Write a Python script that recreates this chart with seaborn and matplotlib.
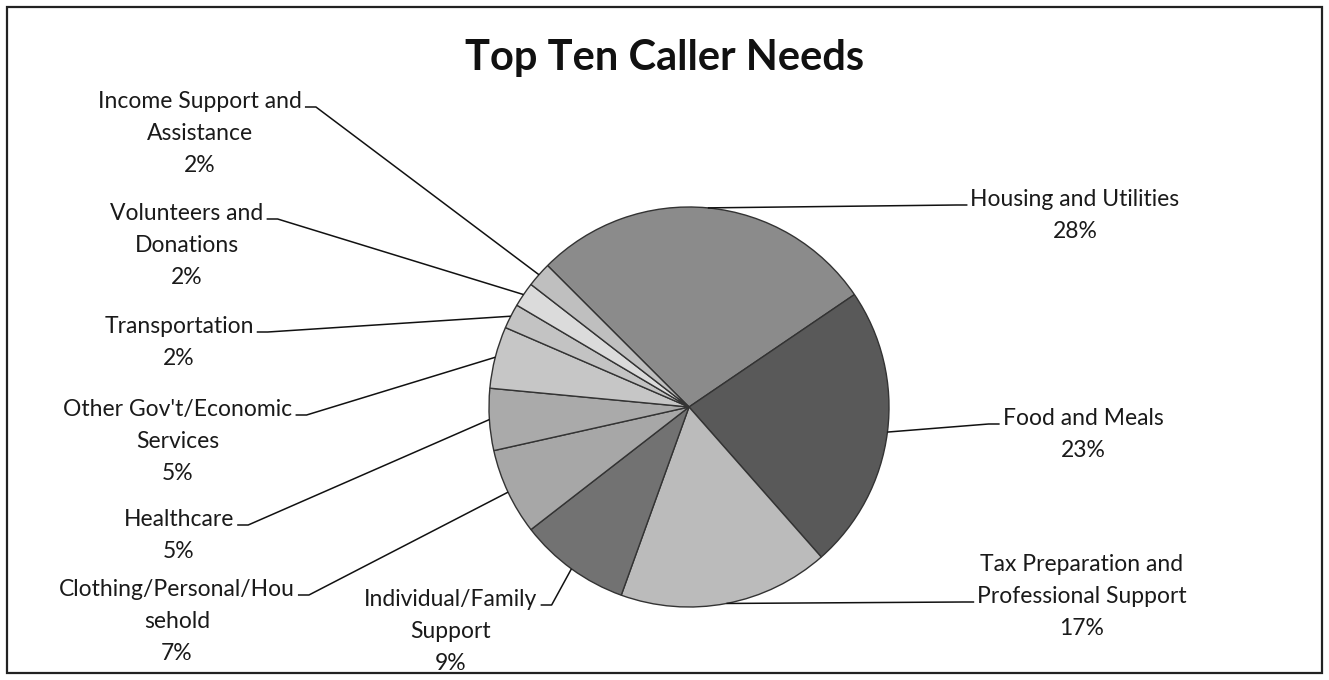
import matplotlib
matplotlib.use("Agg")
import matplotlib.pyplot as plt
from matplotlib.patches import Rectangle
import numpy as np
import seaborn as sns

# Share of calls by need category (percent), clockwise from the top-left
categories = [
    "Housing and Utilities",
    "Food and Meals",
    "Tax Preparation and\nProfessional Support",
    "Individual/Family\nSupport",
    "Clothing/Personal/Hou\nsehold",
    "Healthcare",
    "Other Gov't/Economic\nServices",
    "Transportation",
    "Volunteers and\nDonations",
    "Income Support and\nAssistance",
]
shares = [28, 23, 17, 9, 7, 5, 5, 2, 2, 2]

slice_colors = ["#8b8b8b", "#595959", "#bbbbbb", "#727272", "#a7a7a7",
                "#aaaaaa", "#c6c6c6", "#c3c3c3", "#dbdbdb", "#bfbfbf"]

# label layout: centre x, first-line centre y, side of the pie, line the leader attaches to
label_layout = [
    (1075, 198, "right", 0),
    (1083, 417, "right", 0),
    (1082, 563, "right", 1),
    (451, 598, "left", 0),
    (177, 588, "left", 0),
    (179, 518, "left", 0),
    (178, 408, "left", 0),
    (179, 325, "left", 0),
    (187, 212, "left", 0),
    (200, 100, "left", 0),
]

W, H = 1329, 680
sns.set_theme(style="white")
plt.rcParams["font.family"] = ["Lato", "DejaVu Sans"]

fig = plt.figure(figsize=(W / 100, H / 100), dpi=100)
ax = fig.add_axes([0, 0, 1, 1])

CX, CY, R = 689, 407, 200
wedges, _ = ax.pie(
    shares,
    colors=slice_colors,
    startangle=-135,
    counterclock=True,
    radius=R,
    center=(CX, CY),
    wedgeprops=dict(edgecolor="#333333", linewidth=1.0),
)
ax.set_xlim(0, W)
ax.set_ylim(H, 0)
ax.set_aspect("auto")
ax.axis("off")

ax.add_patch(Rectangle((7, 7), W - 14, H - 14, fill=False, lw=1.6,
                       ec="#222222", zorder=5))

ax.text(665, 70, "Top Ten Caller Needs", ha="center", va="baseline",
        fontsize=30, fontweight="bold", color="#111111")

LS = 32
FS = 16.5
text_objs = []
for cat, val, (cx, y0, side, k) in zip(categories, shares, label_layout):
    lines = cat.split("\n") + [f"{val}%"]
    objs = []
    for i, ln in enumerate(lines):
        t = ax.text(cx, y0 + i * LS + 8, ln, ha="center", va="baseline",
                    fontsize=FS, color="#1a1a1a")
        objs.append(t)
    text_objs.append(objs)

fig.canvas.draw()
renderer = fig.canvas.get_renderer()
inv = ax.transData.inverted()

for w, objs, (cx, y0, side, k) in zip(wedges, text_objs, label_layout):
    mid = np.deg2rad((w.theta1 + w.theta2) / 2)
    px = CX + R * np.cos(mid)
    py = CY + R * np.sin(mid)
    bb = objs[k].get_window_extent(renderer)
    (x0, _), (x1, _) = inv.transform([[bb.x0, bb.y0], [bb.x1, bb.y1]])
    ty = y0 + k * LS + 7
    if side == "left":
        xs = [x1 + 3, x1 + 14, px]
        ys = [ty, ty, py]
    else:
        xs = [px, x0 - 14, x0 - 3]
        ys = [py, ty, ty]
    ax.plot(xs, ys, color="#111111", lw=1.1, solid_capstyle="butt", zorder=4)

fig.savefig("out.png", dpi=100)
